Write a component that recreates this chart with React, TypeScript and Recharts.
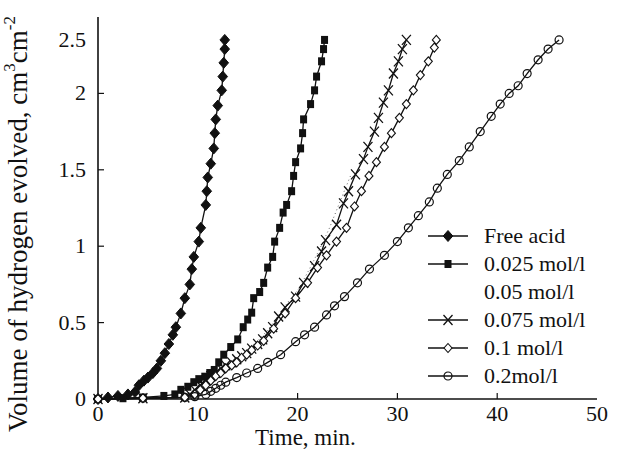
import React from "react";
import { LineChart, Line, XAxis, YAxis, Legend } from "recharts";

const FONT = '"Liberation Serif", "Times New Roman", serif';
const INK = "#111";

// axis ticks
const xTicks = [0, 10, 20, 30, 40, 50];
const yTicks = [0, 0.5, 1, 1.5, 2, 2.5];

// Free acid
const freeAcidTime = [0, 1, 2, 3, 3.7, 4.1, 4.6, 5.0, 5.5, 5.9, 6.3, 6.7, 7.1, 7.5, 7.8, 8.3, 8.7, 9.2, 9.4, 9.6, 10.1, 10.3, 10.8, 10.9, 11.0, 11.3, 11.6, 11.7, 11.8, 12.0, 12.4, 12.5, 12.6, 12.7, 12.7];
const freeAcidVol = [0, 0.01, 0.02, 0.03, 0.045, 0.09, 0.12, 0.14, 0.17, 0.2, 0.25, 0.3, 0.36, 0.42, 0.47, 0.56, 0.66, 0.75, 0.85, 0.93, 1.03, 1.12, 1.27, 1.36, 1.45, 1.54, 1.64, 1.74, 1.83, 1.92, 2.02, 2.11, 2.2, 2.29, 2.35];

// 0.025 mol/l
const c025Time = [0, 2.5, 4.5, 6.6, 7.7, 8.3, 9.0, 9.6, 10.1, 10.7, 11.2, 11.65, 12.1, 12.6, 13.3, 14.0, 14.55, 15.0, 15.4, 15.6, 16.2, 16.6, 17.0, 17.5, 17.7, 18.2, 18.55, 18.9, 19.4, 19.6, 19.8, 20.3, 20.5, 20.6, 21.3, 21.7, 21.9, 22.4, 22.6, 22.7];
const c025Vol = [0, 0.005, 0.01, 0.02, 0.03, 0.06, 0.08, 0.11, 0.13, 0.146, 0.17, 0.19, 0.24, 0.29, 0.34, 0.39, 0.47, 0.52, 0.565, 0.66, 0.7, 0.76, 0.86, 0.93, 1.03, 1.12, 1.22, 1.27, 1.36, 1.46, 1.55, 1.64, 1.74, 1.83, 1.93, 2.02, 2.11, 2.21, 2.29, 2.35];

// 0.05 mol/l (dotted, no marker)
const c05Time = [14.9, 16.0, 17.0, 18.0, 19.1, 20.1, 21.1, 22.2, 23.2, 24.3, 25.3];
const c05Vol = [0.32, 0.38, 0.45, 0.54, 0.64, 0.72, 0.84, 0.98, 1.12, 1.3, 1.46];

// 0.075 mol/l
const c075Time = [0, 4.5, 8.7, 9.2, 9.7, 10.25, 10.8, 11.3, 11.8, 12.3, 12.8, 13.4, 13.9, 14.4, 14.9, 15.4, 16.0, 16.5, 17.0, 17.5, 18.1, 18.75, 19.8, 20.6, 21.7, 22.4, 22.8, 23.9, 24.6, 25.1, 25.8, 26.6, 27.05, 27.7, 28.1, 28.6, 29.1, 29.6, 30.1, 30.5, 30.9];
const c075Vol = [0, 0.005, 0.01, 0.03, 0.06, 0.09, 0.12, 0.15, 0.17, 0.2, 0.22, 0.24, 0.26, 0.28, 0.3, 0.33, 0.36, 0.39, 0.43, 0.47, 0.54, 0.6, 0.67, 0.76, 0.87, 0.965, 1.04, 1.14, 1.28, 1.36, 1.47, 1.57, 1.65, 1.75, 1.84, 1.94, 2.02, 2.13, 2.21, 2.29, 2.35];

// 0.1 mol/l
const c1Time = [0, 4.5, 8.7, 9.7, 10.25, 10.8, 11.3, 11.8, 12.3, 12.8, 13.4, 13.9, 14.4, 14.9, 15.4, 16.0, 16.6, 17.6, 18.75, 19.8, 21.0, 22.0, 22.9, 23.9, 24.9, 25.7, 26.4, 27.15, 27.9, 28.7, 29.4, 30.2, 30.9, 31.6, 32.3, 33.1, 33.7, 33.9];
const c1Vol = [0, 0.005, 0.01, 0.03, 0.06, 0.09, 0.12, 0.15, 0.17, 0.2, 0.22, 0.24, 0.27, 0.29, 0.32, 0.35, 0.38, 0.46, 0.56, 0.66, 0.76, 0.86, 0.94, 1.03, 1.12, 1.26, 1.36, 1.46, 1.55, 1.65, 1.74, 1.84, 1.93, 2.02, 2.12, 2.21, 2.3, 2.35];

// 0.2 mol/l
const c2Time = [0, 4.5, 8.7, 9.7, 10.8, 11.3, 11.8, 12.3, 12.8, 13.9, 14.9, 16.0, 17.0, 18.3, 19.8, 20.7, 21.7, 22.9, 23.7, 24.7, 26.0, 27.2, 28.7, 30.0, 31.1, 32.1, 33.2, 34.0, 35.0, 36.2, 37.2, 38.3, 39.4, 40.3, 41.2, 42.1, 43.0, 44.1, 45.1, 46.2];
const c2Vol = [0, 0.005, 0.01, 0.015, 0.03, 0.05, 0.07, 0.09, 0.11, 0.14, 0.17, 0.2, 0.24, 0.29, 0.375, 0.42, 0.47, 0.55, 0.61, 0.67, 0.76, 0.85, 0.94, 1.03, 1.12, 1.2, 1.29, 1.38, 1.47, 1.56, 1.65, 1.75, 1.85, 1.93, 2.0, 2.05, 2.13, 2.22, 2.29, 2.35];

const pts = (t: number[], v: number[]) => t.map((x, i) => ({ t: x, v: v[i] }));

const series = [
  { name: "Free acid", data: pts(freeAcidTime, freeAcidVol), mark: "diamond" },
  { name: "0.025 mol/l", data: pts(c025Time, c025Vol), mark: "square" },
  { name: "0.05 mol/l", data: pts(c05Time, c05Vol), mark: "none" },
  { name: "0.075 mol/l", data: pts(c075Time, c075Vol), mark: "cross" },
  { name: "0.1 mol/l", data: pts(c1Time, c1Vol), mark: "open" },
  { name: "0.2mol/l", data: pts(c2Time, c2Vol), mark: "circle" },
];

function Mark({ kind, cx, cy }: { kind: string; cx: number; cy: number }) {
  if (kind === "diamond")
    return <polygon points={`${cx},${cy - 5.5} ${cx + 4.8},${cy} ${cx},${cy + 5.5} ${cx - 4.8},${cy}`} fill={INK} stroke={INK} />;
  if (kind === "square") return <rect x={cx - 3.5} y={cy - 4} width={7} height={8} fill={INK} />;
  if (kind === "cross")
    return <path d={`M${cx - 4.5},${cy - 5}L${cx + 4.5},${cy + 5}M${cx - 4.5},${cy + 5}L${cx + 4.5},${cy - 5}`} stroke={INK} strokeWidth={1.3} />;
  if (kind === "open")
    return <polygon points={`${cx},${cy - 4.5} ${cx + 4},${cy} ${cx},${cy + 4.5} ${cx - 4},${cy}`} fill="#fff" stroke={INK} strokeWidth={1.1} />;
  if (kind === "circle") return <circle cx={cx} cy={cy} r={4} fill="none" stroke={INK} strokeWidth={1.2} />;
  return <g />;
}

function XTick(props: any) {
  const { x, y, payload } = props;
  const v = payload.value;
  return (
    <g>
      {v > 0 && v < 50 && <line x1={x} y1={y} x2={x} y2={y - 6} stroke={INK} strokeWidth={1.2} />}
      <text x={x} y={y + 22} textAnchor="middle" fontFamily={FONT} fontSize={22} fill={INK}>
        {v}
      </text>
    </g>
  );
}

function YTick(props: any) {
  const { x, y, payload } = props;
  const v = payload.value;
  const shift = v === 2.5 ? 23 : 0;
  return (
    <g>
      {v > 0 && v < 2.5 && <line x1={x} y1={y} x2={x + 6} y2={y} stroke={INK} strokeWidth={1.2} />}
      <text x={x - 12} y={y + 7 + shift} textAnchor="end" fontFamily={FONT} fontSize={22} fill={INK}>
        {v}
      </text>
    </g>
  );
}

function YTitle(props: any) {
  const { viewBox } = props;
  const cx = viewBox.x + 21;
  const cy = viewBox.y + viewBox.height / 2 + 16;
  return (
    <text x={cx} y={cy} transform={`rotate(-90 ${cx} ${cy})`} textAnchor="middle" dominantBaseline="middle" fontFamily={FONT} fontSize={27} fill={INK}>
      Volume of hydrogen evolved, cm
      <tspan dy={-10} fontSize={17}>3</tspan>
      <tspan dy={10}>cm</tspan>
      <tspan dy={-10} fontSize={17}>-2</tspan>
    </text>
  );
}

function XTitle(props: any) {
  const { viewBox } = props;
  const cx = viewBox.x + viewBox.width / 2 - 42;
  return (
    <text x={cx} y={viewBox.y + 46} textAnchor="middle" fontFamily={FONT} fontSize={23} fill={INK}>
      Time, min.
    </text>
  );
}

function LegendBox() {
  return (
    <div style={{ fontFamily: FONT, fontSize: 22, color: INK, lineHeight: "28px" }}>
      {series.map((s) => (
        <div key={s.name} style={{ display: "flex", alignItems: "center", height: 28 }}>
          <svg width={40} height={14} style={{ marginRight: 16 }}>
            {s.mark !== "none" && (
              <>
                <line x1={0} y1={7} x2={40} y2={7} stroke={INK} strokeWidth={1.4} />
                <Mark kind={s.mark} cx={20} cy={7} />
              </>
            )}
          </svg>
          <span>{s.name}</span>
        </div>
      ))}
    </div>
  );
}

export default function App() {
  return (
    <div style={{ position: "absolute", left: 0, top: 0, background: "#fff" }}>
      <LineChart width={620} height={456} margin={{ top: 17, right: 23, bottom: 0, left: 0 }}>
        <XAxis
          xAxisId="b"
          type="number"
          dataKey="t"
          domain={[0, 50]}
          ticks={xTicks}
          tickSize={0}
          tickMargin={0}
          tickLine={false}
          axisLine={{ stroke: INK, strokeWidth: 1.6 }}
          tick={<XTick />}
          height={57}
          label={<XTitle />}
        />
        <XAxis xAxisId="t" orientation="top" type="number" dataKey="t" domain={[0, 50]} height={0} tick={false} tickLine={false} axisLine={{ stroke: INK, strokeWidth: 1.6 }} />
        <YAxis
          yAxisId="l"
          type="number"
          domain={[0, 2.5]}
          ticks={yTicks}
          tickSize={0}
          tickMargin={0}
          tickLine={false}
          axisLine={{ stroke: INK, strokeWidth: 1.6 }}
          tick={<YTick />}
          width={98}
          label={<YTitle />}
        />
        <YAxis yAxisId="r" orientation="right" type="number" domain={[0, 2.5]} width={0} tick={false} tickLine={false} axisLine={{ stroke: INK, strokeWidth: 1.6 }} />
        <Legend
          layout="vertical"
          verticalAlign="middle"
          align="center"
          wrapperStyle={{ left: 428, top: 222, width: 190 }}
          content={() => <LegendBox />}
        />
        {series.map((s) => (
          <Line
            key={s.name}
            xAxisId="b"
            yAxisId="l"
            data={s.data}
            dataKey="v"
            name={s.name}
            type="linear"
            stroke={s.mark === "none" ? "#666" : INK}
            strokeWidth={s.mark === "none" ? 1 : 1.3}
            strokeDasharray={s.mark === "none" ? "1 3" : undefined}
            isAnimationActive={false}
            dot={
              s.mark === "none"
                ? false
                : (p: any) => (
                    <g key={`${s.name}-${p.index}`}>
                      <Mark kind={s.mark} cx={p.cx} cy={p.cy} />
                    </g>
                  )
            }
            activeDot={false}
          />
        ))}
      </LineChart>
    </div>
  );
}
